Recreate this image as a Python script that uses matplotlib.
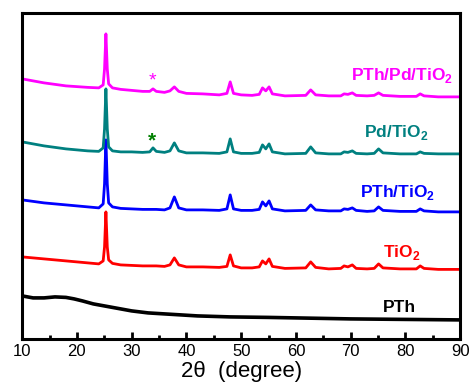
import matplotlib.pyplot as plt

# 2theta grid shared by the TiO2-containing samples
two_theta = [10, 14, 18, 22, 24, 24.8, 25.05, 25.3, 25.55, 25.8, 26.5, 28, 30, 32,
             33.3, 33.9, 34.5, 36, 37.0, 37.8, 38.6, 40, 43, 46, 47.4, 48.0, 48.6,
             50, 52, 53.3, 53.9, 54.5, 55.1, 55.7, 58, 61.8, 62.7, 63.6, 66, 68.2,
             68.8, 69.5, 70.3, 71.0, 73, 74.3, 75.1, 75.9, 79, 82.0, 82.7, 83.4, 86, 90]

# intensities (a.u., already stacked with offsets)
tio2 = [82, 80, 78, 76, 75, 78, 92, 127, 92, 79, 75.5, 74, 73.5, 73,
        73, 73, 73, 72.5, 74, 81, 74, 72, 72, 71.5, 72.5, 84, 73,
        71, 71, 72, 78, 75, 80, 72.5, 70.5, 71, 77, 71.5, 70, 70.5,
        73, 72, 74, 70.5, 70, 70.5, 75, 71, 70, 70, 73, 70.5, 69.5, 69.5]
pth_tio2 = [139, 136, 134, 132, 131, 135, 155, 199, 155, 136, 132, 130.5, 130, 129.5,
            129.5, 129.5, 129.5, 129, 131, 142, 131, 129, 129, 128.5, 130, 144, 130,
            128.5, 128.5, 129.5, 137, 133, 138, 130, 128, 128.5, 134, 129, 128, 128,
            130, 129.5, 131, 128.5, 127.5, 128, 132, 128.5, 127.5, 127.5, 130, 128, 127, 127]
pd_tio2 = [197, 193, 190, 188, 187.5, 191, 210, 250, 210, 192, 188, 187, 187, 186.5,
           187, 191, 187.5, 186.5, 188, 196, 188, 186, 186, 185.5, 187, 200, 187,
           185.5, 185.5, 186.5, 194, 190, 195, 187, 185, 185.5, 192, 186, 185, 185,
           187, 186.5, 188, 185.5, 185, 185.5, 190, 186, 185, 185, 187, 185.5, 185, 185]
pth_pd_tio2 = [260, 256, 253, 251.5, 251, 254, 270, 305, 270, 255, 251, 249.5, 248.5, 247.5,
               247.5, 250, 247.5, 246.5, 248, 252, 247.5, 245.5, 245, 244, 245.5, 257, 245.5,
               244, 243.5, 244.5, 251, 248, 252, 245, 243, 243.5, 249, 244, 243, 243,
               245, 244.5, 246, 243.5, 243, 243.5, 246, 243.5, 242.5, 242.5, 245, 243, 242, 242]

# pure polythiophene (amorphous)
pth_theta = [10, 12, 14, 16, 18, 19.5, 21, 23, 25, 27, 30, 33, 36, 39, 42, 48, 55, 60, 70, 80, 90]
pth = [43, 41, 41, 42, 41.5, 40, 38, 35, 33, 31, 28, 26, 25, 24, 23, 22, 21.5, 21, 20, 19.5, 19]

plt.rcParams['font.family'] = ['Liberation Sans', 'DejaVu Sans']
plt.rcParams['mathtext.fontset'] = 'custom'
plt.rcParams['mathtext.rm'] = 'Liberation Sans'
plt.rcParams['mathtext.bf'] = 'Liberation Sans:bold'

fig = plt.figure(figsize=(4.71, 3.90), dpi=100)
ax = fig.add_axes([0.047, 0.131, 0.93, 0.836])

lw = 2.0
ax.plot(pth_theta, pth, color='black', lw=2.6)
ax.plot(two_theta, tio2, color='#ff0000', lw=lw)
ax.plot(two_theta, pth_tio2, color='#0000ff', lw=lw)
ax.plot(two_theta, pd_tio2, color='#008080', lw=lw)
ax.plot(two_theta, pth_pd_tio2, color='#ff00ff', lw=lw)

# sample labels
kw = dict(fontsize=12.5, fontweight='bold', ha='right')
ax.text(88.7, 259, r'PTh/Pd/TiO$_\mathbf{2}$', color='#ff00ff', **kw)
ax.text(84.2, 202, r'Pd/TiO$_\mathbf{2}$', color='#008080', **kw)
ax.text(85.4, 142, r'PTh/TiO$_\mathbf{2}$', color='#0000ff', **kw)
ax.text(82.7, 82, r'TiO$_\mathbf{2}$', color='#ff0000', **kw)
ax.text(82.0, 27, 'PTh', color='black', **kw)

# Pd marker peaks
ax.text(33.8, 253, '*', color='#ff00ff', fontsize=14, ha='center')
ax.text(33.8, 192, '*', color='#008000', fontsize=15, fontweight='bold', ha='center')

ax.set_xlim(10, 90)
ax.set_ylim(0, 326)
ax.set_xticks(range(10, 91, 10))
ax.set_xticks(range(15, 90, 10), minor=True)
ax.set_yticks([])
ax.tick_params(axis='x', which='major', direction='in', length=5, width=2, labelsize=12, pad=4)
ax.tick_params(axis='x', which='minor', direction='in', length=3, width=2)
for s in ax.spines.values():
    s.set_linewidth(2.2)

ax.set_xlabel('2\u03b8  (degree)', fontsize=16, labelpad=1)

fig.savefig('out.png', dpi=100)
